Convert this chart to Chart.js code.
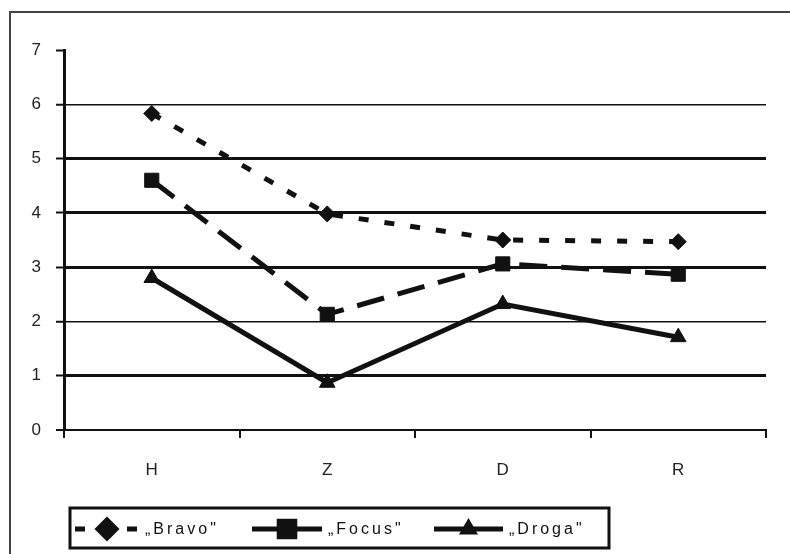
<!DOCTYPE html>
<html>
<head>
<meta charset="utf-8">
<script src="https://cdn.jsdelivr.net/npm/chart.js@4.4.1/dist/chart.umd.min.js"></script>
<style>
  html, body { margin: 0; padding: 0; background: #fff; }
  #wrap { width: 790px; height: 554px; }
</style>
</head>
<body>
<div id="wrap"><canvas id="lineChart" width="790" height="554"></canvas></div>
<script>
    // categories and series
    var categories = ['H', 'Z', 'D', 'R'];
    var seriesNames = ['\u201EBravo"', '\u201EFocus"', '\u201EDroga"'];
    var bravo = [5.83, 3.98, 3.5, 3.47];
    var focus = [4.6, 2.13, 3.06, 2.87];
    var droga = [2.8, 0.87, 2.32, 1.71];
    var yTicks = [0, 1, 2, 3, 4, 5, 6, 7];

    var ink = '#111';
    var fontFamily = "'Liberation Sans', Arial, sans-serif";

    // scan makes some gridlines look heavier than others
    var gridWidth = { 0: 2, 1: 3, 2: 1.5, 3: 3, 4: 3, 5: 3, 6: 1.5, 7: 0 };

    // outer frame of the scanned figure
    var framePlugin = {
        id: 'frame',
        beforeDraw: function (chart) {
            var c = chart.ctx;
            c.save();
            c.fillStyle = '#fff';
            c.fillRect(0, 0, chart.width, chart.height);
            c.strokeStyle = '#444';
            c.lineWidth = 2;
            c.beginPath();
            c.moveTo(10, chart.height);
            c.lineTo(10, 12);
            c.lineTo(chart.width, 12);
            c.stroke();
            c.restore();
        }
    };

    // boxed legend with line samples like the old spreadsheet one
    var legendStart = [75, 252, 434];
    var legendSample = [64, 70, 69];
    var legendPlugin = {
        id: 'boxLegend',
        afterDraw: function (chart) {
            var c = chart.ctx;
            var y = 529;
            c.save();
            c.strokeStyle = ink;
            c.lineWidth = 3;
            c.strokeRect(70, 508, 539, 40);
            chart.data.datasets.forEach(function (ds, i) {
                var x0 = legendStart[i];
                var x1 = x0 + legendSample[i];
                c.strokeStyle = ink;
                c.lineWidth = ds.borderWidth;
                c.setLineDash(ds.borderDash || []);
                c.lineDashOffset = 0;
                c.beginPath();
                c.moveTo(x0, y);
                c.lineTo(x1, y);
                c.stroke();
                c.setLineDash([]);
                c.fillStyle = ink;
                Chart.helpers.drawPoint(c, {
                    pointStyle: ds.pointStyle,
                    radius: ds.legendRadius,
                    borderWidth: 1
                }, (x0 + x1) / 2, y);
                c.font = '16px ' + fontFamily;
                c.letterSpacing = '3px';
                c.textBaseline = 'middle';
                c.textAlign = 'left';
                c.fillText(ds.label, x1 + 6, y + 1);
            });
            c.restore();
        }
    };

    var ctx = document.getElementById('lineChart').getContext('2d');
    var myChart = new Chart(ctx, {
        type: 'line',
        data: {
            labels: categories,
            datasets: [{
                label: seriesNames[0],
                data: bravo,
                borderColor: ink,
                backgroundColor: ink,
                borderWidth: 5,
                borderDash: [10, 16],
                pointStyle: 'rectRot',
                pointRadius: 8,
                legendRadius: 9,
                pointBorderWidth: 1
            }, {
                label: seriesNames[1],
                data: focus,
                borderColor: ink,
                backgroundColor: ink,
                borderWidth: 5,
                borderDash: [28, 14],
                pointStyle: 'rect',
                pointRadius: 10,
                legendRadius: 11,
                pointBorderWidth: 1
            }, {
                label: seriesNames[2],
                data: droga,
                borderColor: ink,
                backgroundColor: ink,
                borderWidth: 5,
                pointStyle: 'triangle',
                pointRadius: 9,
                legendRadius: 6,
                pointBorderWidth: 1
            }]
        },
        options: {
            responsive: false,
            animation: false,
            events: [],
            layout: { padding: { top: 50, right: 24, bottom: 0, left: 0 } },
            plugins: {
                legend: { display: false },
                tooltip: { enabled: false }
            },
            elements: { line: { tension: 0 } },
            scales: {
                x: {
                    offset: true,
                    afterFit: function (scale) { scale.height = 124; },
                    border: { display: true, color: ink, width: 2 },
                    grid: {
                        offset: true,
                        drawOnChartArea: false,
                        drawTicks: true,
                        tickLength: 8,
                        color: ink,
                        lineWidth: 2
                    },
                    ticks: {
                        color: '#222',
                        padding: 22,
                        font: { family: fontFamily, size: 17 }
                    }
                },
                y: {
                    min: yTicks[0],
                    max: yTicks[yTicks.length - 1],
                    afterFit: function (scale) { scale.width = 64; },
                    afterBuildTicks: function (scale) {
                        scale.ticks = yTicks.map(function (v) { return { value: v }; });
                    },
                    border: { display: true, color: ink, width: 3 },
                    grid: {
                        drawTicks: true,
                        tickLength: 8,
                        tickColor: ink,
                        tickWidth: 2,
                        color: function (c) { return c.tick && c.tick.value === 7 ? 'rgba(0,0,0,0)' : ink; },
                        lineWidth: function (c) { return c.tick ? gridWidth[c.tick.value] || 1 : 1; }
                    },
                    ticks: {
                        color: '#222',
                        padding: 15,
                        font: { family: fontFamily, size: 17 }
                    }
                }
            }
        },
        plugins: [framePlugin, legendPlugin]
    });
</script>
</body>
</html>
